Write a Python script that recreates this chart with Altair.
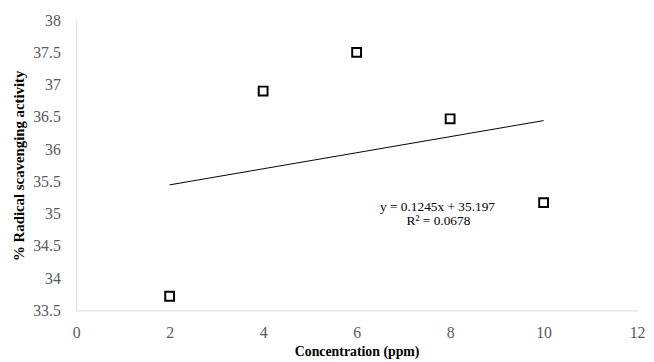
import altair as alt
import pandas as pd

conc = [2, 4, 6, 8, 10]
activity = [33.72, 36.9, 37.5, 36.47, 35.17]
trend_x = [2, 10]
trend_y = [35.446, 36.442]
eq_lines = ["y = 0.1245x + 35.197", "R² = 0.0678"]
eq_x = [7.73, 7.75]
eq_y = [35.107, 34.878]
x_ticks = [0, 2, 4, 6, 8, 10, 12]
y_ticks = [33.5, 34, 34.5, 35, 35.5, 36, 36.5, 37, 37.5, 38]

pts = pd.DataFrame({"x": conc, "y": activity})
trend = pd.DataFrame({"x": trend_x, "y": trend_y})
eq = pd.DataFrame({"x": eq_x, "y": eq_y, "t": eq_lines})

FONT = "Liberation Serif, Times New Roman, serif"
xs = alt.Scale(domain=[0, 12], nice=False, zero=False)
ys = alt.Scale(domain=[33.5, 38], nice=False, zero=False)

xax = alt.Axis(values=x_ticks, title="Concentration (ppm)", grid=False, format="~g",
               ticks=False, domainColor="#d9d9d9", labelColor="#595959", labelFontSize=16,
               labelFont=FONT, labelPadding=14, labelFlush=False, labelOverlap=False,
               titleFont=FONT, titleFontSize=14,
               titleFontWeight="bold", titleColor="#000000", titlePadding=5)
yax = alt.Axis(values=y_ticks, format="~g",
               title="% Radical scavenging activity", grid=False, ticks=False,
               domainColor="#d9d9d9", labelColor="#595959", labelFontSize=16,
               labelFont=FONT, labelPadding=16, labelFlush=False, labelOverlap=False,
               titleFont=FONT, titleFontSize=15,
               titleFontWeight="bold", titleColor="#000000", titlePadding=6)

X = alt.X("x:Q", scale=xs, axis=xax)
Y = alt.Y("y:Q", scale=ys, axis=yax)

points = alt.Chart(pts).mark_point(shape="square", filled=False, color="#000000",
                                    strokeWidth=2, size=80, opacity=1).encode(x=X, y=Y)
line = alt.Chart(trend).mark_line(color="#000000", strokeWidth=1).encode(x=X, y=Y)
text = alt.Chart(eq).mark_text(font=FONT, fontSize=13.5, color="#000000", align="center").encode(
    x=X, y=Y, text="t:N")

chart = alt.layer(line, points, text).properties(
    width=568, height=294,
    autosize=alt.AutoSizeParams(type="none"),
    padding={"left": 69, "top": 10, "right": 9, "bottom": 50},
).configure_view(stroke=None).configure_axis(
    labelFont=FONT, titleFont=FONT, labelOverlap=False, labelFlush=False
)

chart.save("out.html", embed_options={"renderer": "svg", "actions": False})
